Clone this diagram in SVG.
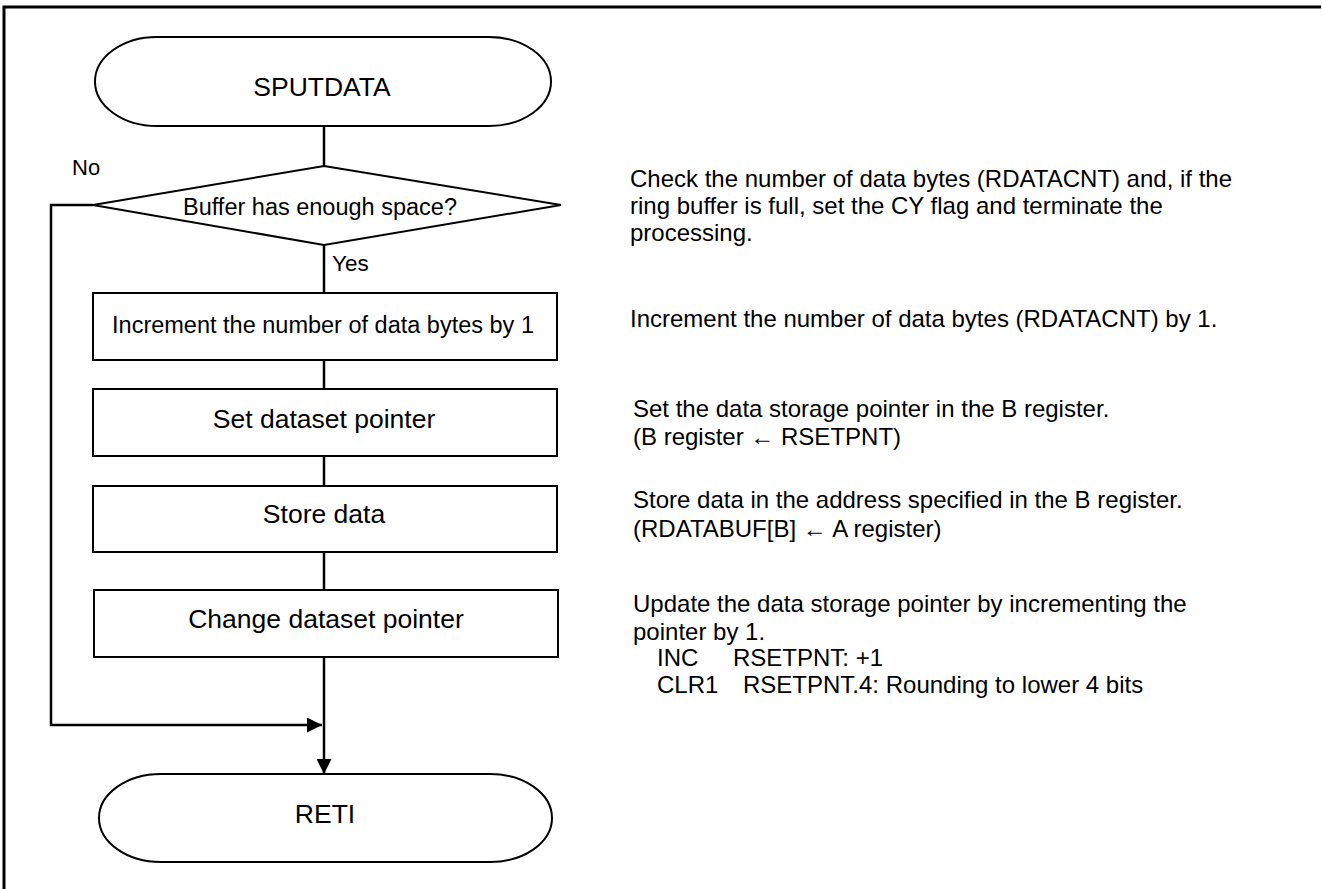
<svg xmlns="http://www.w3.org/2000/svg" width="1322" height="889" viewBox="0 0 1322 889">
<style>
.s{fill:#fff;stroke:#000;stroke-width:2}
.c{fill:none;stroke:#000;stroke-width:2.5}
.t{font-family:"Liberation Sans",Arial,sans-serif;fill:#000}
.m{text-anchor:middle}
.b{font-size:26.5px}
</style>
<defs>
<marker id="ah" markerUnits="userSpaceOnUse" markerWidth="15" markerHeight="15" viewBox="0 0 15 15" refX="15" refY="7.5" orient="auto">
<path d="M0,0 L15,7.5 L0,15 Z" fill="#000"/>
</marker>
</defs>
<rect width="1322" height="889" fill="#fff"/>
<g id="frame">
<path d="M4,889 V7 H1321" fill="none" stroke="#000" stroke-width="3"/>
</g>
<g id="connectors">
<line class="c" x1="324" y1="126" x2="324" y2="166"/>
<line class="c" x1="324" y1="245" x2="324" y2="293"/>
<line class="c" x1="324" y1="360" x2="324" y2="389"/>
<line class="c" x1="324" y1="456" x2="324" y2="486"/>
<line class="c" x1="324" y1="552" x2="324" y2="590"/>
<line class="c" x1="324" y1="657" x2="324" y2="774" marker-end="url(#ah)"/>
<path class="c" d="M93,205 H51 V725 H322" marker-end="url(#ah)"/>
<text class="t" x="72" y="175" font-size="22">No</text>
<text class="t" x="332" y="271" font-size="22.5">Yes</text>
</g>
<g id="start">
<rect class="s" x="95" y="37" width="456" height="89" rx="62" ry="44.5"/>
<text class="t m b" x="322" y="96">SPUTDATA</text>
</g>
<g id="decision">
<polygon class="s" points="324,166 561,205 324,245 93,205"/>
<text class="t m" x="320" y="215" font-size="23.5">Buffer has enough space?</text>
</g>
<g id="box1">
<rect class="s" x="93" y="293" width="464" height="67"/>
<text class="t m" x="323" y="333" font-size="23.5">Increment the number of data bytes by 1</text>
</g>
<g id="box2">
<rect class="s" x="93" y="389" width="464" height="67"/>
<text class="t m b" x="324" y="428">Set dataset pointer</text>
</g>
<g id="box3">
<rect class="s" x="93" y="486" width="464" height="66"/>
<text class="t m b" x="324" y="523">Store data</text>
</g>
<g id="box4">
<rect class="s" x="94" y="590" width="464" height="67"/>
<text class="t m b" x="326" y="628">Change dataset pointer</text>
</g>
<g id="end">
<rect class="s" x="99" y="774" width="453" height="88" rx="62" ry="44"/>
<text class="t m b" x="325" y="823">RETI</text>
</g>
<g id="notes" class="t" font-size="24">
<text x="630" y="187">Check the number of data bytes (RDATACNT) and, if the</text>
<text x="630" y="214">ring buffer is full, set the CY flag and terminate the</text>
<text x="630" y="241">processing.</text>
<text x="630" y="327">Increment the number of data bytes (RDATACNT) by 1.</text>
<text x="633" y="417">Set the data storage pointer in the B register.</text>
<text x="633" y="445">(B register ← RSETPNT)</text>
<text x="633" y="508">Store data in the address specified in the B register.</text>
<text x="633" y="537">(RDATABUF[B] ← A register)</text>
<text x="633" y="612">Update the data storage pointer by incrementing the</text>
<text x="633" y="640">pointer by 1.</text>
<text x="657" y="666">INC</text>
<text x="733" y="666">RSETPNT: +1</text>
<text x="657" y="693">CLR1</text>
<text x="743" y="693">RSETPNT.4: Rounding to lower 4 bits</text>
</g>
</svg>
